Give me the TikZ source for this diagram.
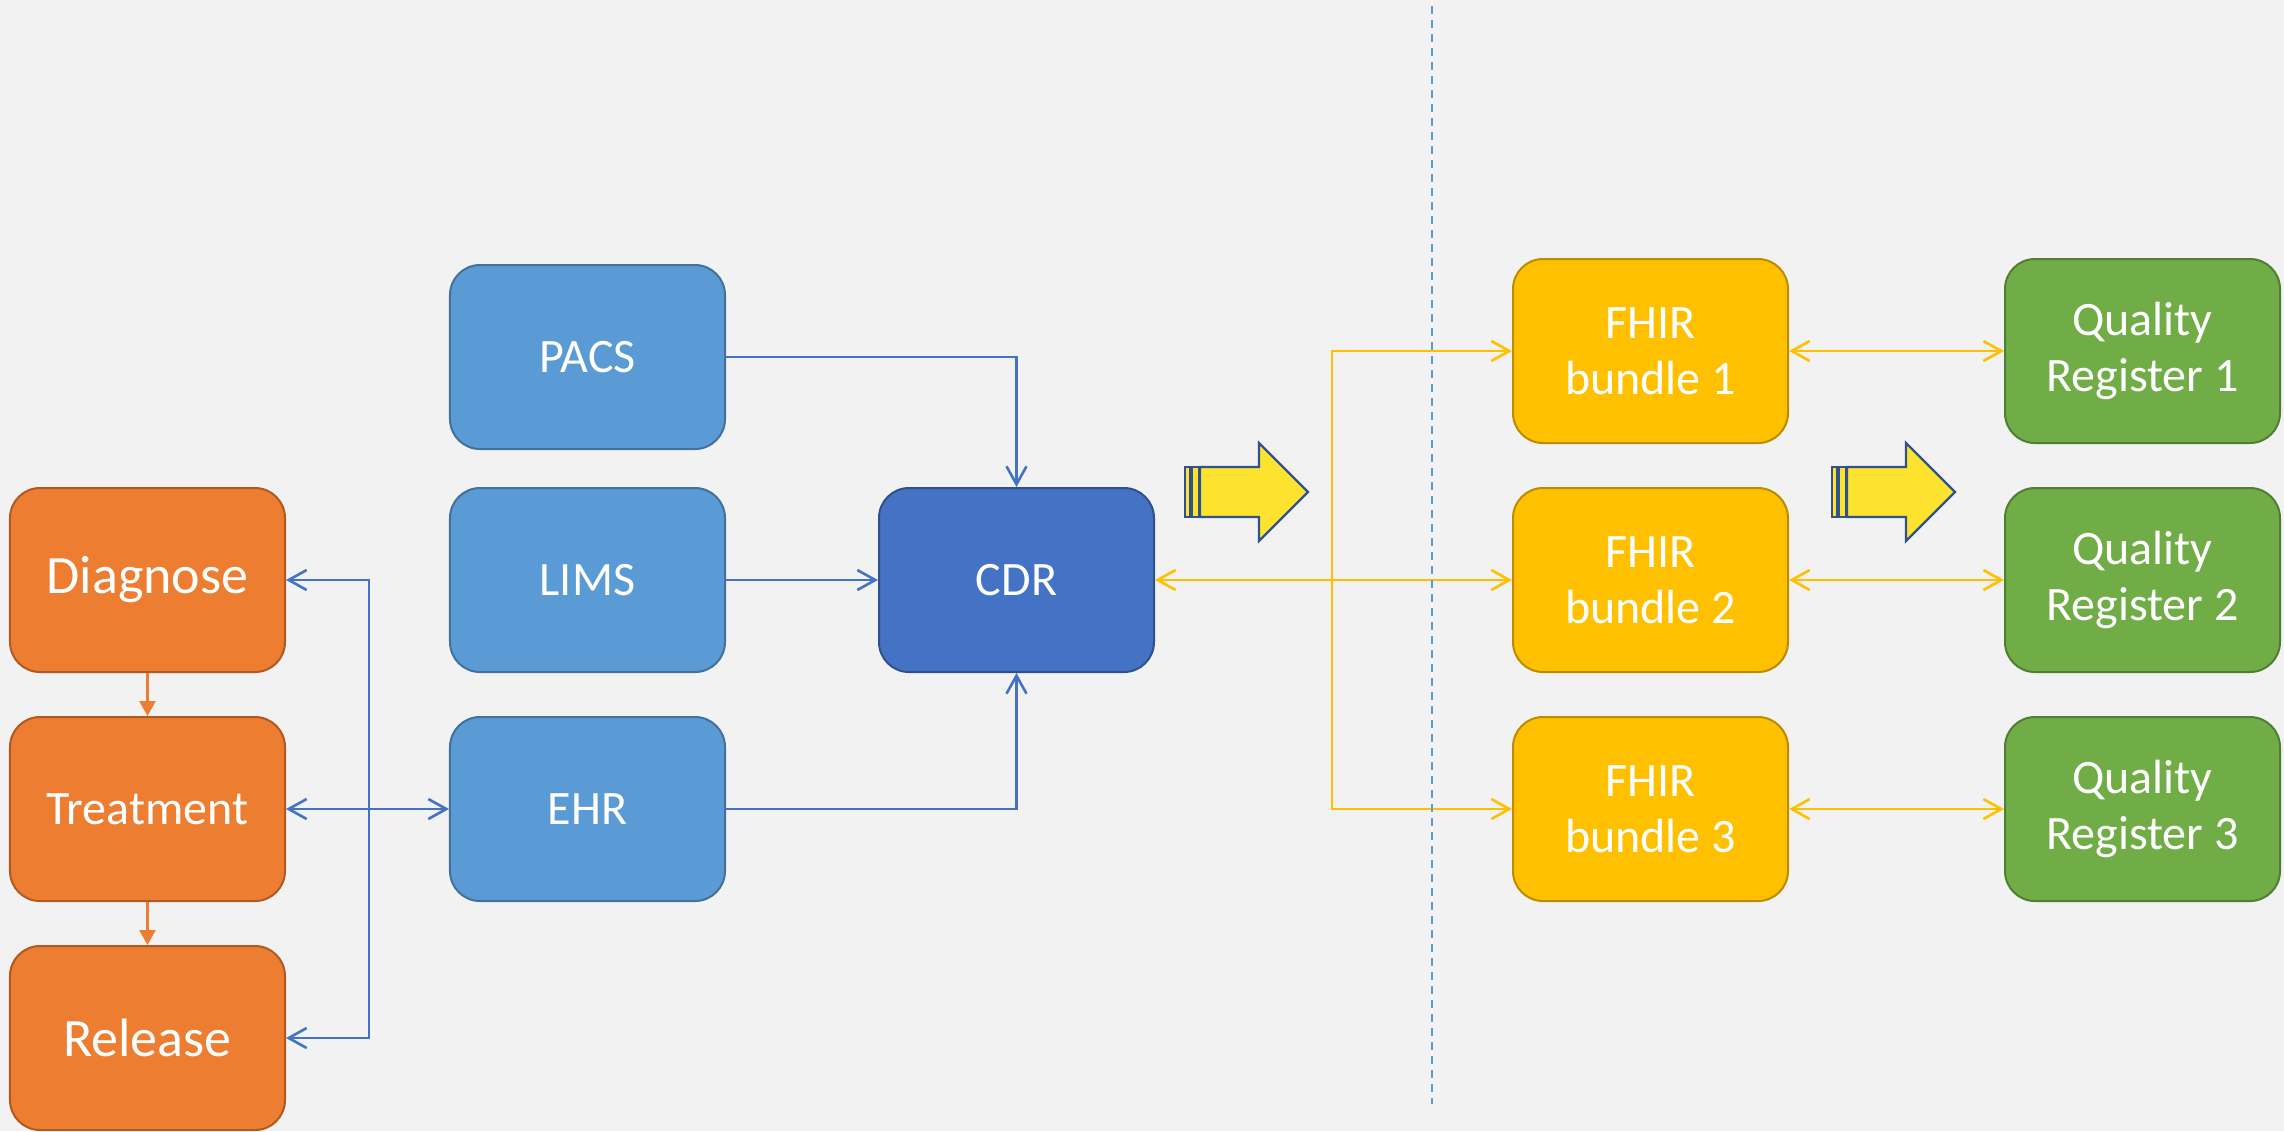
\documentclass[tikz,border=0pt]{standalone}
\usepackage{fontspec}
\setmainfont{Carlito}
\usepackage{tikz}
\usetikzlibrary{matrix,arrows.meta}

\definecolor{bgcol}{HTML}{F2F2F2}
\definecolor{orfill}{HTML}{ED7D31}
\definecolor{ordraw}{HTML}{AE5A21}
\definecolor{srcfill}{HTML}{5B9BD5}
\definecolor{srcdraw}{HTML}{41719C}
\definecolor{cdrfill}{HTML}{4472C4}
\definecolor{cdrdraw}{HTML}{2F528F}
\definecolor{fhirfill}{HTML}{FFC000}
\definecolor{fhirdraw}{HTML}{BC8C00}
\definecolor{regfill}{HTML}{70AD47}
\definecolor{regdraw}{HTML}{507E32}
\definecolor{linkblue}{HTML}{4472C4}
\definecolor{linkorange}{HTML}{ED7D31}
\definecolor{linkyellow}{HTML}{FFC000}
\definecolor{sepblue}{HTML}{5B9BD5}
\definecolor{arrowfill}{HTML}{FDE32E}
\definecolor{arrowdraw}{HTML}{2F528F}

\begin{document}
\begin{tikzpicture}[x=0.5pt, y=-0.5pt,
		box/.style={rounded corners=15pt, line width=1pt, minimum width=137.5pt, minimum height=92pt, inner sep=0pt, text=white, align=center, font=\fontsize{24}{28}\selectfont},
		stage/.style={box, fill=orfill, draw=ordraw, font=\fontsize{27}{32}\selectfont},
		source/.style={box, fill=srcfill, draw=srcdraw},
		repo/.style={box, fill=cdrfill, draw=cdrdraw},
		bundle/.style={box, fill=fhirfill, draw=fhirdraw},
		register/.style={box, fill=regfill, draw=regdraw},
		>={Straight Barb[length=9pt, width=10pt]},
		link/.style={draw=linkblue, line width=1.3pt},
		flow/.style={draw=linkorange, line width=1.3pt, -{Triangle[length=7.5pt, width=8pt]}},
		feed/.style={draw=linkyellow, line width=1.3pt},
		sepline/.style={draw=sepblue, line width=1pt, dash pattern=on 4pt off 3pt},
		bigarrow/.style={fill=arrowfill, draw=arrowdraw, line width=1.2pt}]
	\useasboundingbox (0,0) rectangle (2284,1131);
	\fill[bgcol] (0,0) rectangle (2284,1131);

	\matrix (m) [row sep=21.5pt, column sep=0pt, matrix anchor=diag.center] at (147.5,580)
	{
		                                 &[81.5pt] \node[source, yshift=-3pt] (pacs) {PACS}; &[76pt]                         &[178.5pt] \node[bundle] (fhir1) {FHIR\\bundle 1}; &[107.5pt] \node[register] (reg1) {Quality\\Register 1}; \\[-3pt]
		\node[stage] (diag) {Diagnose};  & \node[source] (lims) {LIMS};                      & \node[repo] (cdr) {CDR};       & \node[bundle] (fhir2) {FHIR\\bundle 2};           & \node[register] (reg2) {Quality\\Register 2}; \\
		\node[stage, font=\fontsize{24}{28}\selectfont] (treat) {Treatment}; & \node[source] (ehr) {EHR}; & & \node[bundle] (fhir3) {FHIR\\bundle 3};    & \node[register] (reg3) {Quality\\Register 3}; \\
		\node[stage] (rel) {Release};    \\
	};

	\draw[link, ->] (pacs) -| (cdr);
	\draw[link, ->] (lims) -- (cdr);
	\draw[link, ->] (ehr) -| (cdr);
	\draw[link, <->] (diag.east) -- ++(83,0) |- (rel.east);
	\draw[link, <->] (treat) -- (ehr);
	\draw[flow] (diag) -- (treat);
	\draw[flow] (treat) -- (rel);

	\draw[feed, <->] (cdr) -- (fhir2);
	\draw[feed, <->] (fhir1.west) -- ++(-180,0) |- (fhir3.west);
	\foreach \r in {1,2,3}
		\draw[feed, <->] (fhir\r) -- (reg\r);

	\draw[sepline] (1432,6) -- (1432,1104);

	\foreach \ax in {1185,1832}
	{
		\filldraw[bigarrow] (\ax,467) rectangle ++(5,50);
		\filldraw[bigarrow] ({\ax+6.5},467) rectangle ++(8,50);
		\filldraw[bigarrow] ({\ax+15},467) -- ({\ax+74},467) -- ({\ax+74},443) -- ({\ax+123},492) -- ({\ax+74},541) -- ({\ax+74},517) -- ({\ax+15},517) -- cycle;
	}
\end{tikzpicture}
\end{document}
